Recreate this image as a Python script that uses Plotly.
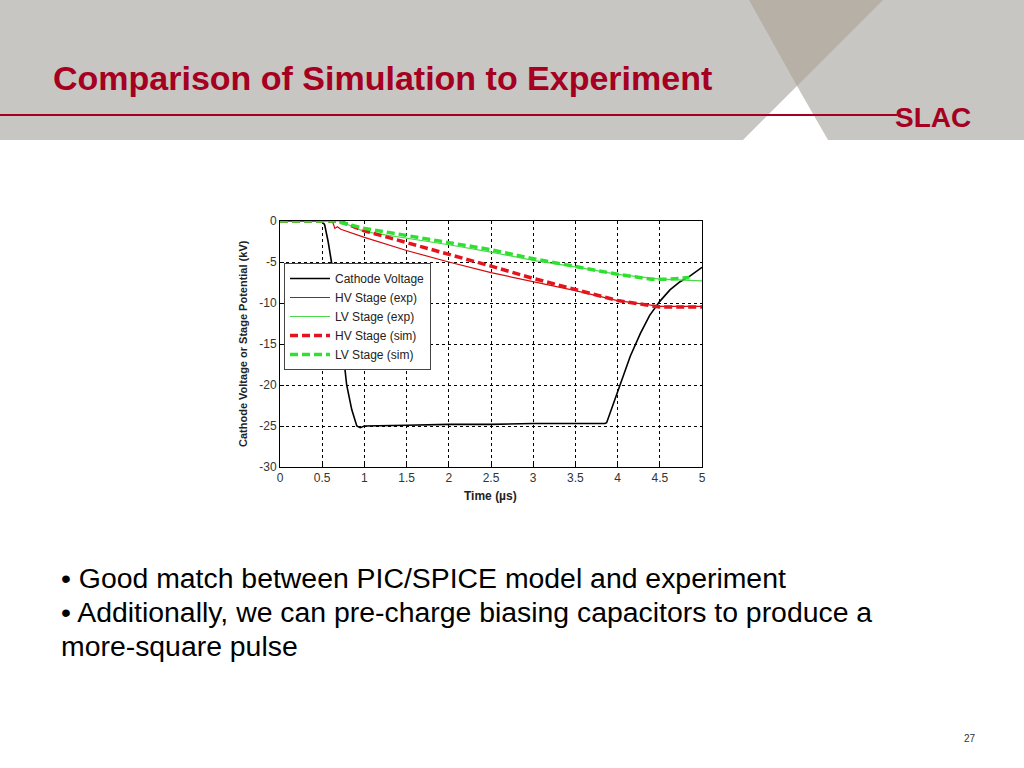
import plotly.graph_objects as go

# ---------------- data ----------------
cath_t = [0, 0.50, 0.53, 0.57, 0.61, 0.66, 0.70, 0.74, 0.79, 0.85, 0.91, 0.95, 1.0, 1.5, 2.0, 2.5, 3.0, 3.5,
          3.85, 3.87, 3.95, 4.03, 4.15, 4.27, 4.38, 4.50, 4.62, 4.74, 4.86, 5.0]
cath_v = [0, 0, -0.5, -2.5, -5.0, -8.0, -11.5, -15.0, -20.0, -23.0, -25.0, -25.2, -25.0, -24.9, -24.8, -24.8,
          -24.7, -24.7, -24.7, -24.6, -22.3, -20.0, -16.5, -13.7, -11.5, -9.8, -8.4, -7.4, -6.7, -5.65]

hv_exp_t = [0, 0.62, 0.65, 0.68, 0.72, 1.0, 1.5, 2.0, 2.5, 3.0, 3.5, 4.0, 4.5, 5.0]
hv_exp_v = [0, 0, -0.9, -0.7, -1.0, -2.0, -3.6, -5.0, -6.3, -7.4, -8.5, -9.7, -10.4, -10.4]

lv_exp_t = [0, 0.70, 1.0, 1.5, 2.0, 2.5, 3.0, 3.5, 4.0, 4.5, 5.0]
lv_exp_v = [0, 0, -1.3, -2.1, -2.9, -3.8, -4.8, -5.6, -6.5, -7.1, -7.3]

hv_sim_t = [0, 0.70, 1.0, 1.5, 2.0, 2.5, 3.0, 3.5, 4.0, 4.5, 5.0]
hv_sim_v = [0, 0, -1.2, -2.6, -4.0, -5.5, -7.0, -8.3, -9.7, -10.5, -10.5]

lv_sim_t = [0, 0.65, 1.0, 1.5, 2.0, 2.5, 3.0, 3.5, 4.0, 4.4, 4.6, 4.85]
lv_sim_v = [0, 0, -0.9, -1.8, -2.6, -3.5, -4.6, -5.6, -6.5, -7.1, -7.1, -6.9]

x_ticks = [0, 0.5, 1, 1.5, 2, 2.5, 3, 3.5, 4, 4.5, 5]
x_tick_labels = ["0", "0.5", "1", "1.5", "2", "2.5", "3", "3.5", "4", "4.5", "5"]
y_ticks = [0, -5, -10, -15, -20, -25, -30]
y_tick_labels = ["0", "-5", "-10", "-15", "-20", "-25", "-30"]

title_text = "Comparison of Simulation to Experiment"
bullets = ["• Good match between PIC/SPICE model and experiment",
           "• Additionally, we can pre-charge biasing capacitors to produce a",
           "more-square pulse"]

W, H = 1024, 768
def px(x):
    return x / W
def py(y):
    return 1 - y / H

RED = "#a50021"
FONT = "Liberation Sans, Arial"

fig = go.Figure()
fig.add_trace(go.Scatter(x=cath_t, y=cath_v, mode="lines", name="Cathode Voltage",
                         line=dict(color="black", width=1.6)))
fig.add_trace(go.Scatter(x=hv_exp_t, y=hv_exp_v, mode="lines", name="HV Stage (exp)",
                         line=dict(color="#d40a0a", width=1.2)))
fig.add_trace(go.Scatter(x=lv_exp_t, y=lv_exp_v, mode="lines", name="LV Stage (exp)",
                         line=dict(color="#4cd84c", width=1.2)))
fig.add_trace(go.Scatter(x=hv_sim_t, y=hv_sim_v, mode="lines", name="HV Stage (sim)",
                         line=dict(color="#e3141e", width=3.5, dash="8px,4px")))
fig.add_trace(go.Scatter(x=lv_sim_t, y=lv_sim_v, mode="lines", name="LV Stage (sim)",
                         line=dict(color="#30e030", width=3.5, dash="8px,4px")))

axis_common = dict(showline=True, mirror=True, linecolor="black", linewidth=1,
                   showgrid=True, gridcolor="black", gridwidth=1, griddash="3px,3px",
                   zeroline=False, ticks="inside", ticklen=4, tickcolor="black",
                   automargin=False,
                   tickfont=dict(family=FONT, size=12, color="#333"))

fig.update_layout(
    width=W, height=H,
    margin=dict(l=0, r=0, t=0, b=0, pad=0, autoexpand=False),
    paper_bgcolor="white", plot_bgcolor="white",
    xaxis=dict(domain=[px(280), px(702)], range=[0, 5], tickvals=x_ticks, ticktext=x_tick_labels,
               **axis_common),
    yaxis=dict(domain=[py(467), py(221)], range=[-30, 0], tickvals=y_ticks, ticktext=y_tick_labels,
               **axis_common),
    legend=dict(x=px(284), y=py(263), xanchor="left", yanchor="top",
                bgcolor="white", bordercolor="#444", borderwidth=1,
                font=dict(family=FONT, size=12, color="#222"),
                tracegroupgap=0, itemwidth=40),
    showlegend=True,
)

# slide background
shapes = [
    dict(type="rect", xref="paper", yref="paper", x0=0, x1=1, y0=py(140), y1=1,
         fillcolor="#c7c6c2", line=dict(width=0), layer="below"),
    dict(type="path", xref="paper", yref="paper",
         path=f"M {px(749)},{py(0)} L {px(883)},{py(0)} L {px(797)},{py(86)} Z",
         fillcolor="#b6b0a6", line=dict(width=0), layer="below"),
    dict(type="path", xref="paper", yref="paper",
         path=f"M {px(797)},{py(86)} L {px(828)},{py(140)} L {px(743)},{py(140)} Z",
         fillcolor="white", line=dict(width=0), layer="below"),
    dict(type="line", xref="paper", yref="paper", x0=0, x1=px(897), y0=py(115), y1=py(115),
         line=dict(color=RED, width=2), layer="below"),
]
fig.update_layout(shapes=shapes)

annotations = [
    dict(text=f"<b>{title_text}</b>", x=px(51), y=py(78), xref="paper", yref="paper",
         xanchor="left", yanchor="middle", showarrow=False,
         font=dict(family=FONT, size=34, color=RED)),
    dict(text="<b>SLAC</b>", x=px(933), y=py(117), xref="paper", yref="paper",
         xanchor="center", yanchor="middle", showarrow=False,
         font=dict(family=FONT, size=28, color=RED)),
    dict(text="<b>Cathode Voltage or Stage Potential (kV)</b>", x=px(243), y=py(344),
         xref="paper", yref="paper", xanchor="center", yanchor="middle", textangle=-90,
         showarrow=False, font=dict(family=FONT, size=11, color="#222")),
    dict(text="<b>Time (µs)</b>", x=px(490), y=py(496), xref="paper", yref="paper",
         xanchor="center", yanchor="middle", showarrow=False,
         font=dict(family=FONT, size=12, color="#222")),
    dict(text="27", x=px(970), y=py(738), xref="paper", yref="paper",
         xanchor="center", yanchor="middle", showarrow=False,
         font=dict(family=FONT, size=10, color="#333")),
]
for line, yy in zip(bullets, [578, 612, 646]):
    annotations.append(dict(text=line, x=px(59), y=py(yy), xref="paper", yref="paper",
                            xanchor="left", yanchor="middle", showarrow=False,
                            font=dict(family=FONT, size=28.4, color="black")))
fig.update_layout(annotations=annotations)

fig.write_html("out.html", config={"displayModeBar": False},
               post_script="document.body.style.margin='0';document.body.style.overflow='hidden';")
